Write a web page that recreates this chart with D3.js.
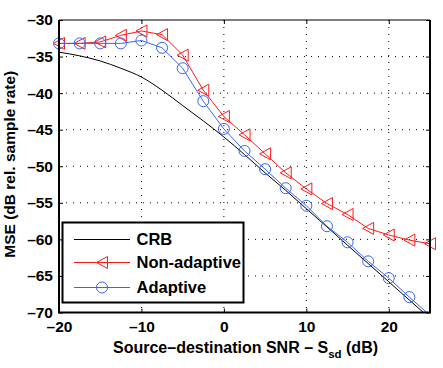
<!DOCTYPE html>
<html lang="en">
<head>
<meta charset="UTF-8">
<title>MSE vs SNR</title>
<script src="https://d3js.org/d3.v7.min.js"></script>
<style>
    body { margin: 0; background: #fff; }
    svg text { font-family: "Liberation Sans", Arial, Helvetica, sans-serif; font-weight: bold; fill: #000; }
</style>
</head>
<body>
<svg id="chart" width="443" height="368"></svg>
<script>
    // data
    const snr = [-20, -17.5, -15, -12.5, -10, -7.5, -5, -2.5, 0, 2.5, 5, 7.5, 10, 12.5, 15, 17.5, 20, 22.5, 25];
    const crb = [-34.4, -34.9, -35.6, -36.6, -37.8, -39.6, -41.7, -43.8, -46.0, -48.4, -50.9, -53.3, -55.8, -58.3, -60.8, -63.3, -65.8, -68.3, -70.8];
    const nonAdaptive = [-33.2, -33.2, -33.0, -32.1, -31.5, -32.0, -34.8, -39.6, -43.2, -45.7, -48.3, -50.9, -53.1, -55.1, -56.6, -58.5, -59.4, -60.1, -60.6];
    const adaptive = [-33.2, -33.2, -33.2, -33.2, -32.8, -33.8, -36.6, -41.1, -44.9, -47.9, -50.4, -53.0, -55.4, -58.2, -60.4, -63.0, -65.3, -67.9, -70.4];
    const xTicks = [-20, -10, 0, 10, 20];
    const yTicks = [-70, -65, -60, -55, -50, -45, -40, -35, -30];
    const seriesNames = ["CRB", "Non-adaptive", "Adaptive"];

    const svg = d3.select("#chart");
    const margin = { top: 20, right: 13, bottom: 55.5, left: 59 };
    const w = 443 - margin.left - margin.right;
    const h = 368 - margin.top - margin.bottom;

    const x = d3.scaleLinear().domain([-20, 25]).range([0, w]);
    const y = d3.scaleLinear().domain([-70, -30]).range([h, 0]);

    const fmt = d => d < 0 ? "\u2013" + Math.abs(d) : String(d);

    const g = svg.append("g").attr("transform", "translate(" + margin.left + "," + margin.top + ")");

    svg.append("defs").append("clipPath").attr("id", "clip")
        .append("rect").attr("width", w).attr("height", h);

    // dotted grid
    g.selectAll(".gx").data(xTicks.slice(1)).join("line")
        .attr("x1", d => x(d)).attr("x2", d => x(d))
        .attr("y1", 0).attr("y2", h)
        .attr("stroke", "#000").attr("stroke-width", 1).attr("stroke-dasharray", "1,6");
    g.selectAll(".gy").data(yTicks.slice(1, -1)).join("line")
        .attr("x1", 0).attr("x2", w)
        .attr("y1", d => y(d)).attr("y2", d => y(d))
        .attr("stroke", "#000").attr("stroke-width", 1).attr("stroke-dasharray", "1,6");

    // axes with inward ticks
    const tl = 4;
    g.append("g").attr("transform", "translate(0," + h + ")")
        .call(d3.axisBottom(x).tickValues(xTicks).tickSize(-tl).tickPadding(8).tickFormat(fmt))
        .call(a => a.select(".domain").remove());
    g.append("g")
        .call(d3.axisLeft(y).tickValues(yTicks).tickSize(-tl).tickPadding(6).tickFormat(fmt))
        .call(a => a.select(".domain").remove());
    g.append("g")
        .call(d3.axisTop(x).tickValues(xTicks).tickSize(-tl).tickFormat(""))
        .call(a => a.select(".domain").remove());
    g.append("g").attr("transform", "translate(" + w + ",0)")
        .call(d3.axisRight(y).tickValues(yTicks).tickSize(-tl).tickFormat(""))
        .call(a => a.select(".domain").remove());
    g.selectAll(".tick line").attr("stroke", "#000").attr("stroke-width", 1);
    g.selectAll(".tick text").style("font-size", "15.5px");

    // series
    const lineFn = vals => d3.line()
        .x((d, i) => x(snr[i]))
        .y((d, i) => y(vals[i]));
    const plot = g.append("g").attr("clip-path", "url(#clip)");

    plot.append("path").datum(crb)
        .attr("d", lineFn(crb).curve(d3.curveMonotoneX))
        .attr("fill", "none").attr("stroke", "#000").attr("stroke-width", 1);

    const red = "#ff1a1a", blue = "#3866f2";

    plot.append("path").datum(nonAdaptive)
        .attr("d", lineFn(nonAdaptive))
        .attr("fill", "none").attr("stroke", red).attr("stroke-width", 1);
    plot.append("path").datum(adaptive)
        .attr("d", lineFn(adaptive))
        .attr("fill", "none").attr("stroke", blue).attr("stroke-width", 1);

    const triPath = "M-5.5,0L5.5,-6L5.5,6Z";
    g.selectAll(".tri").data(nonAdaptive).join("path")
        .attr("class", "tri")
        .attr("transform", (d, i) => "translate(" + x(snr[i]) + "," + y(d) + ")")
        .attr("d", triPath)
        .attr("fill", "none").attr("stroke", red).attr("stroke-width", 1);
    g.selectAll(".circ").data(adaptive.filter(v => v >= -70)).join("circle")
        .attr("class", "circ")
        .attr("cx", (d, i) => x(snr[i])).attr("cy", d => y(d)).attr("r", 5.5)
        .attr("fill", "none").attr("stroke", blue).attr("stroke-width", 1);

    // frame
    g.append("line").attr("x1", 0).attr("x2", w).attr("y1", 0).attr("y2", 0)
        .attr("stroke", "#000").attr("stroke-width", 1.2);
    g.append("path").attr("d", "M0,0V" + h + "H" + w + "V0")
        .attr("fill", "none").attr("stroke", "#000").attr("stroke-width", 2);

    // axis labels
    const xl = svg.append("text")
        .attr("x", margin.left + w / 2 + 1).attr("y", 352.5)
        .attr("text-anchor", "middle").style("font-size", "16px");
    xl.append("tspan").text("Source\u2013destination SNR \u2013 S");
    xl.append("tspan").attr("dy", 5).style("font-size", "11.5px").text("sd");
    xl.append("tspan").attr("dy", -5).text(" (dB)");

    svg.append("text")
        .attr("transform", "translate(15," + (margin.top + h / 2 - 2) + ") rotate(-90)")
        .attr("text-anchor", "middle").style("font-size", "15.5px")
        .text("MSE (dB rel. sample rate)");

    // legend
    const lg = svg.append("g").attr("transform", "translate(62.5,222.5)");
    lg.append("rect").attr("width", 181).attr("height", 80)
        .attr("fill", "#fff").attr("stroke", "#000").attr("stroke-width", 2);
    const colors = ["#000", red, blue];
    const rowY = [17, 40, 65];
    seriesNames.forEach((name, i) => {
        const row = lg.append("g").attr("transform", "translate(0," + rowY[i] + ")");
        row.append("line").attr("x1", 11.5).attr("x2", 67.5)
            .attr("stroke", colors[i]).attr("stroke-width", 1);
        if (i === 1) {
            row.append("path").attr("transform", "translate(39.5,0)").attr("d", triPath)
                .attr("fill", "none").attr("stroke", red);
        }
        if (i === 2) {
            row.append("circle").attr("cx", 39.5).attr("r", 5.5)
                .attr("fill", "none").attr("stroke", blue);
        }
        row.append("text").attr("x", 74).attr("dy", "0.36em")
            .style("font-size", "16.5px").text(name);
    });
</script>
</body>
</html>
